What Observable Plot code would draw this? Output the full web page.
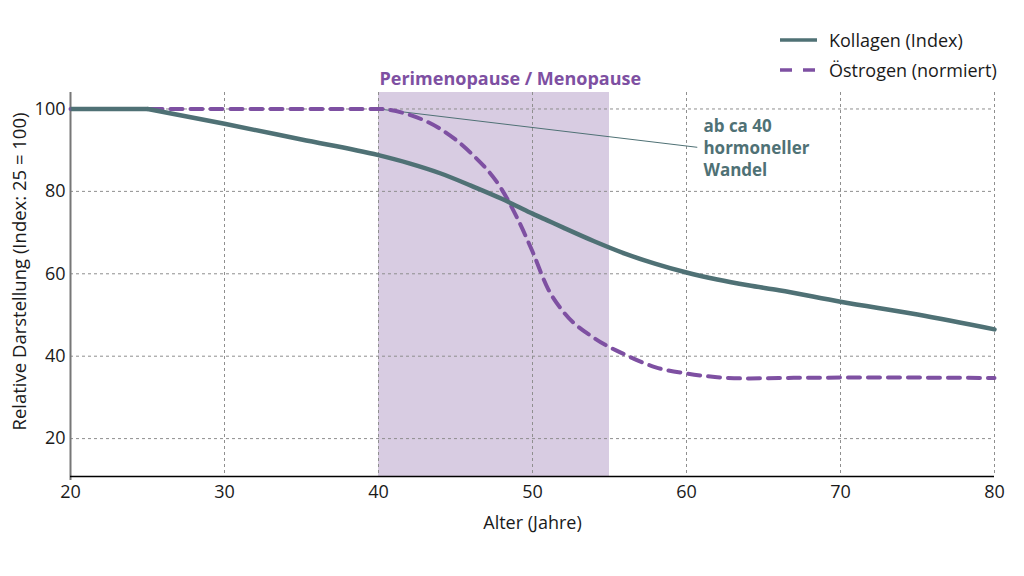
<!DOCTYPE html>
<html><head><meta charset="utf-8">
<script src="https://cdn.jsdelivr.net/npm/d3@7"></script>
<script src="https://cdn.jsdelivr.net/npm/@observablehq/plot@0.6"></script>
<style>
body{margin:0;background:#fff;font-family:"Open Sans",sans-serif;}
#wrap{position:relative;width:1024px;height:576px;overflow:hidden;}
#legend{position:absolute;left:780px;top:25px;font-size:18px;color:#1a1a1a;font-family:"Open Sans",sans-serif;}
.row{display:flex;align-items:center;height:30px;white-space:nowrap;}
.row svg{margin-right:12px;}
</style></head><body><div id="wrap"><div id="legend"></div></div>
<script>
const ages      = [20, 25, 30, 35, 40, 42, 44, 46, 48, 49, 50, 51, 52, 54, 56, 58, 60, 62, 64, 66, 70, 75, 80];
const kollagen  = [100, 100, 96.4, 92.6, 88.8, 86.8, 84.4, 81.4, 78.2, 76.4, 74.6, 72.9, 71.2, 67.9, 64.9, 62.4, 60.3, 58.6, 57.2, 56.0, 53.2, 50.1, 46.5];
const oestrogen = [100, 100, 100, 100, 100, 98.6, 95.2, 89.3, 80.5, 73.6, 65.4, 56.4, 50.8, 44.4, 40.4, 37.3, 35.8, 34.9, 34.6, 34.7, 34.8, 34.8, 34.7];
const kollagenPlateauEnd = 25;
const xTicks = [20, 30, 40, 50, 60, 70, 80];
const yTicks = [20, 40, 60, 80, 100];
const xDomain = [20, 80];
const yDomain = [10.8, 104];
const phase = [40, 55];
const phaseLabel = "Perimenopause / Menopause";
const seriesNames = ["Kollagen (Index)", "Östrogen (normiert)"];
const annotText = "ab ca 40\nhormoneller\nWandel";
const annotFrom = [40, 100];
const annotTo = [60.7, 90.7];
const annotAt = [61.1, 90.8];
const xLabel = "Alter (Jahre)";
const yLabel = "Relative Darstellung (Index: 25 = 100)";

const teal = "#4f7175";
const purple = "#7e50a2";
const band = "#d8cce2";
const gridColor = "#8f8f8f";

const rows = ages.map((a, i) => ({age: a, k: kollagen[i], o: oestrogen[i]}));
const kPlateau = rows.filter(d => d.age <= kollagenPlateauEnd);
const kDecline = rows.filter(d => d.age >= kollagenPlateauEnd);

const chart = Plot.plot({
  width: 1024, height: 576,
  marginLeft: 70, marginRight: 30, marginTop: 92, marginBottom: 100,
  style: {fontFamily: "'Open Sans', sans-serif", fontSize: "18px", color: "#1a1a1a", background: "#fff", overflow: "visible"},
  x: {domain: xDomain},
  y: {domain: yDomain},
  marks: [
    Plot.rect([phase], {x1: d => d[0], x2: d => d[1], fill: band}),
    Plot.gridX(xTicks.slice(1), {stroke: gridColor, strokeOpacity: 1, strokeWidth: 1, strokeDasharray: "3,3"}),
    Plot.gridY(yTicks, {stroke: gridColor, strokeOpacity: 1, strokeWidth: 1, strokeDasharray: "3,3"}),
    Plot.ruleX([xDomain[0]], {stroke: "#777", strokeWidth: 2, insetBottom: -4}),
    Plot.ruleY([yDomain[0]], {stroke: "#000", strokeWidth: 1.5}),
    Plot.axisX({ticks: xTicks, tickSize: 0, tickPadding: 9, label: null, fontSize: 18}),
    Plot.axisY({ticks: yTicks, tickSize: 0, tickPadding: 5, label: null, fontSize: 18}),
    Plot.link([annotFrom], {x1: d => d[0], y1: d => d[1], x2: () => annotTo[0], y2: () => annotTo[1], stroke: teal, strokeWidth: 1}),
    Plot.lineY(rows, {x: "age", y: "o", stroke: purple, strokeWidth: 4, strokeDasharray: "12,8", curve: "monotone-x"}),
    Plot.lineY(kPlateau, {x: "age", y: "k", stroke: teal, strokeWidth: 4.5, strokeLinecap: "butt"}),
    Plot.lineY(kDecline, {x: "age", y: "k", stroke: teal, strokeWidth: 4.5, curve: "monotone-x"}),
    Plot.text([phaseLabel], {x: phase[0], frameAnchor: "top", dy: -20, dx: 1, textAnchor: "start", fill: purple, fontWeight: "bold", fontSize: 18}),
    Plot.text([annotText], {x: annotAt[0], y: annotAt[1], textAnchor: "start", lineHeight: 1.3, fill: teal, fontWeight: "bold", fontSize: 17}),
    Plot.text([xLabel], {frameAnchor: "bottom", dy: 52, fontSize: 18, fill: "#1a1a1a"}),
    Plot.text([yLabel], {frameAnchor: "left", textAnchor: "middle", dx: -50, dy: -13, rotate: -90, fontSize: 18.5, fill: "#1a1a1a"})
  ]
});
document.getElementById("wrap").prepend(chart);

const legend = document.getElementById("legend");
const styles = [{stroke: teal, dash: null}, {stroke: purple, dash: "12,11"}];
seriesNames.forEach((name, i) => {
  const row = document.createElement("div");
  row.className = "row";
  const s = styles[i];
  row.innerHTML = `<svg width="37" height="10"><line x1="0" y1="5" x2="37" y2="5" stroke="${s.stroke}" stroke-width="3.5" ${s.dash ? `stroke-dasharray="${s.dash}"` : ""}/></svg><span>${name}</span>`;
  legend.appendChild(row);
});
</script>
</body></html>
